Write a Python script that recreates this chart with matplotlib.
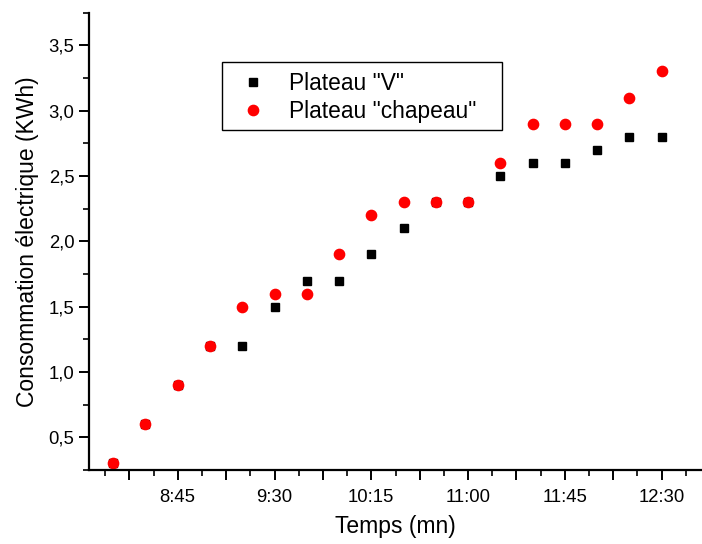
import numpy as np
import matplotlib
matplotlib.use('Agg')
import matplotlib.pyplot as plt
from matplotlib.ticker import MultipleLocator, FuncFormatter
from matplotlib.patches import Rectangle

plt.rcParams['font.family'] = ['Liberation Sans', 'DejaVu Sans']

times = ['8:15', '8:30', '8:45', '9:00', '9:15', '9:30', '9:45', '10:00', '10:15',
         '10:30', '10:45', '11:00', '11:15', '11:30', '11:45', '12:00', '12:15', '12:30']
plateau_v = [0.3, 0.6, 0.9, 1.2, 1.2, 1.5, 1.7, 1.7, 1.9, 2.1, 2.3, 2.3, 2.5, 2.6, 2.6, 2.7, 2.8, 2.8]
plateau_chapeau = [0.3, 0.6, 0.9, 1.2, 1.5, 1.6, 1.6, 1.9, 2.2, 2.3, 2.3, 2.3, 2.6, 2.9, 2.9, 2.9, 3.1, 3.3]

def to_min(t):
    h, m = t.split(':')
    return int(h) * 60 + int(m)

x = np.array([to_min(t) for t in times])
W, H = 702, 544

fig = plt.figure(figsize=(W/100, H/100), dpi=100)
ax = fig.add_axes([89/W, 1 - 470/H, 1 - 89/W, (470 - 12.7)/H])

ax.plot(x, plateau_v, 's', color='black', ms=6.2, label='Plateau "V"', clip_on=False)
ax.plot(x, plateau_chapeau, 'o', color='#ff0000', ms=7.4, label='Plateau "chapeau"', clip_on=False)

ax.set_xlim(to_min('8:15') - 11.25, to_min('12:30') + 18.75)
ax.set_ylim(0.25, 3.75)

for s in ['top', 'right']:
    ax.spines[s].set_visible(False)
for s in ['left', 'bottom']:
    ax.spines[s].set_linewidth(1.6)

# major ticks every 22.5 min, labels every 45 min starting at 8:45
ax.xaxis.set_major_locator(MultipleLocator(22.5, offset=7.5))
ax.xaxis.set_minor_locator(MultipleLocator(11.25, offset=7.5))

def fmt_time(v, pos):
    r = (v - to_min('8:45')) % 45
    if min(r, 45 - r) > 1e-6:
        return ''
    h = int(v // 60)
    m = int(round(v - h * 60))
    return f'{h}:{m:02d}'

ax.xaxis.set_major_formatter(FuncFormatter(fmt_time))
ax.yaxis.set_major_locator(MultipleLocator(0.5))
ax.yaxis.set_minor_locator(MultipleLocator(0.25))
ax.yaxis.set_major_formatter(FuncFormatter(lambda v, p: f'{v:.1f}'.replace('.', ',')))

ax.tick_params(which='major', direction='out', length=7, width=1.4, labelsize=13.3)
ax.tick_params(which='minor', direction='out', length=4, width=1.2)
ax.tick_params(axis='x', pad=7)

ax.set_xlabel('Temps (mn)', fontsize=16.5, labelpad=6)
ax.set_ylabel('Consommation électrique (KWh)', fontsize=16.5, labelpad=7)

# legend frame drawn separately (unequal padding in the original)
ax.add_patch(Rectangle((222/W, 1 - 130/H), 280/W, 68/H, transform=fig.transFigure,
                       facecolor='white', edgecolor='black', lw=1.0, zorder=4, clip_on=False))
leg = ax.legend(loc='upper left', bbox_to_anchor=(244/W, 1 - 72/H),
                bbox_transform=fig.transFigure, fontsize=16.4, frameon=False,
                borderpad=0, handletextpad=1.18, labelspacing=0.24, handlelength=0.8,
                borderaxespad=0)
leg.set_zorder(6)

fig.savefig('out.png', dpi=100)
